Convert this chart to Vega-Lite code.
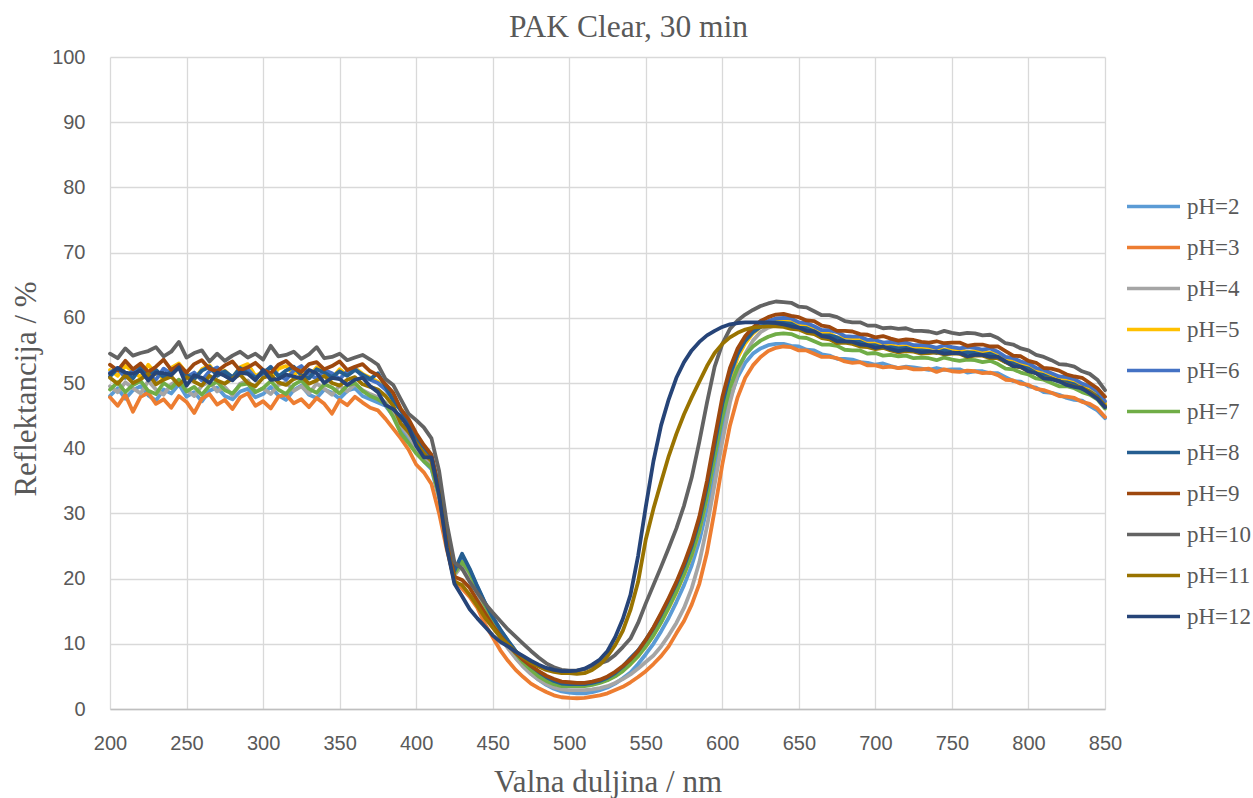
{
"$schema": "https://vega.github.io/schema/vega-lite/v6.json",
"width": 995, "height": 652,
"autosize": "none",
"padding": {"left": 110, "top": 57, "right": 148, "bottom": 89},
"background": "white",
"title": {"text": "PAK Clear, 30 min", "font": "Liberation Serif", "fontSize": 31.5, "fontWeight": "normal", "color": "#595959", "anchor": "middle", "dx": 21, "offset": 4},
"config": {"view": {"stroke": null}},
"data": {"values": [
{"w":200,"pH=2":48.0,"pH=3":47.8,"pH=4":49.5,"pH=5":52.0,"pH=6":51.6,"pH=7":49.0,"pH=8":51.0,"pH=9":52.8,"pH=10":54.5,"pH=11":50.8,"pH=12":51.4},
{"w":205,"pH=2":49.2,"pH=3":46.5,"pH=4":48.6,"pH=5":51.1,"pH=6":52.3,"pH=7":50.1,"pH=8":52.2,"pH=9":51.9,"pH=10":53.8,"pH=11":49.9,"pH=12":52.3},
{"w":210,"pH=2":47.6,"pH=3":48.2,"pH=4":50.1,"pH=5":52.6,"pH=6":50.8,"pH=7":48.6,"pH=8":51.6,"pH=9":53.4,"pH=10":55.3,"pH=11":51.2,"pH=12":51.6},
{"w":215,"pH=2":48.9,"pH=3":45.6,"pH=4":49.2,"pH=5":51.8,"pH=6":51.9,"pH=7":49.7,"pH=8":50.7,"pH=9":52.1,"pH=10":54.2,"pH=11":50.0,"pH=12":51.4},
{"w":220,"pH=2":49.5,"pH=3":47.9,"pH=4":48.4,"pH=5":50.9,"pH=6":52.5,"pH=7":50.3,"pH=8":52.4,"pH=9":53.0,"pH=10":54.6,"pH=11":50.6,"pH=12":51.9},
{"w":225,"pH=2":48.1,"pH=3":48.5,"pH=4":50.3,"pH=5":52.8,"pH=6":51.0,"pH=7":48.8,"pH=8":51.3,"pH=9":51.7,"pH=10":54.9,"pH=11":51.4,"pH=12":50.4},
{"w":230,"pH=2":47.3,"pH=3":46.8,"pH=4":49.0,"pH=5":51.4,"pH=6":50.5,"pH=7":48.3,"pH=8":52.0,"pH=9":52.5,"pH=10":55.5,"pH=11":49.8,"pH=12":51.6},
{"w":235,"pH=2":49.0,"pH=3":47.5,"pH=4":48.2,"pH=5":50.7,"pH=6":52.2,"pH=7":50.0,"pH=8":50.9,"pH=9":53.6,"pH=10":54.1,"pH=11":50.5,"pH=12":51.5},
{"w":240,"pH=2":48.4,"pH=3":46.2,"pH=4":49.8,"pH=5":52.3,"pH=6":51.4,"pH=7":49.2,"pH=8":51.7,"pH=9":52.0,"pH=10":54.8,"pH=11":51.0,"pH=12":51.2},
{"w":245,"pH=2":49.8,"pH=3":48.0,"pH=4":50.5,"pH=5":53.0,"pH=6":52.7,"pH=7":50.5,"pH=8":52.6,"pH=9":52.8,"pH=10":56.3,"pH=11":49.7,"pH=12":52.4},
{"w":250,"pH=2":47.9,"pH=3":47.1,"pH=4":48.9,"pH=5":51.5,"pH=6":50.9,"pH=7":48.7,"pH=8":51.2,"pH=9":51.6,"pH=10":53.9,"pH=11":50.9,"pH=12":49.6},
{"w":255,"pH=2":48.6,"pH=3":45.4,"pH=4":48.0,"pH=5":50.6,"pH=6":51.6,"pH=7":49.4,"pH=8":50.6,"pH=9":52.9,"pH=10":54.6,"pH=11":50.2,"pH=12":51.2},
{"w":260,"pH=2":47.2,"pH=3":47.6,"pH=4":49.6,"pH=5":52.1,"pH=6":50.4,"pH=7":48.2,"pH=8":51.9,"pH=9":53.5,"pH=10":55.0,"pH=11":49.6,"pH=12":50.8},
{"w":265,"pH=2":48.8,"pH=3":48.3,"pH=4":50.2,"pH=5":52.7,"pH=6":51.8,"pH=7":49.6,"pH=8":52.5,"pH=9":52.2,"pH=10":53.3,"pH=11":51.1,"pH=12":50.0},
{"w":270,"pH=2":49.3,"pH=3":46.7,"pH=4":48.7,"pH=5":51.2,"pH=6":52.4,"pH=7":50.2,"pH=8":51.1,"pH=9":51.8,"pH=10":54.5,"pH=11":50.4,"pH=12":51.6},
{"w":275,"pH=2":48.0,"pH=3":47.4,"pH=4":49.4,"pH=5":51.9,"pH=6":51.1,"pH=7":48.9,"pH=8":51.8,"pH=9":52.7,"pH=10":53.4,"pH=11":49.9,"pH=12":51.1},
{"w":280,"pH=2":47.5,"pH=3":46.0,"pH=4":48.1,"pH=5":50.8,"pH=6":50.6,"pH=7":48.4,"pH=8":50.9,"pH=9":53.3,"pH=10":54.2,"pH=11":50.7,"pH=12":50.4},
{"w":285,"pH=2":48.7,"pH=3":47.8,"pH=4":49.9,"pH=5":52.4,"pH=6":51.9,"pH=7":49.7,"pH=8":52.3,"pH=9":51.9,"pH=10":54.8,"pH=11":51.3,"pH=12":51.6},
{"w":290,"pH=2":49.1,"pH=3":48.4,"pH=4":50.4,"pH=5":52.9,"pH=6":52.1,"pH=7":49.9,"pH=8":51.5,"pH=9":52.4,"pH=10":53.9,"pH=11":50.0,"pH=12":51.4},
{"w":295,"pH=2":47.8,"pH=3":46.5,"pH=4":48.6,"pH=5":51.1,"pH=6":50.8,"pH=7":48.6,"pH=8":50.8,"pH=9":53.1,"pH=10":54.5,"pH=11":49.5,"pH=12":50.4},
{"w":300,"pH=2":48.3,"pH=3":47.2,"pH=4":49.2,"pH=5":51.7,"pH=6":51.4,"pH=7":49.2,"pH=8":51.6,"pH=9":52.0,"pH=10":53.6,"pH=11":50.8,"pH=12":52.0},
{"w":305,"pH=2":49.4,"pH=3":46.1,"pH=4":48.3,"pH=5":50.8,"pH=6":52.5,"pH=7":50.3,"pH=8":52.4,"pH=9":51.5,"pH=10":55.7,"pH=11":51.2,"pH=12":50.5},
{"w":310,"pH=2":48.1,"pH=3":47.9,"pH=4":49.7,"pH=5":52.2,"pH=6":51.2,"pH=7":49.0,"pH=8":51.0,"pH=9":52.8,"pH=10":54.1,"pH=11":50.1,"pH=12":50.6},
{"w":315,"pH=2":47.4,"pH=3":48.2,"pH=4":50.1,"pH=5":52.6,"pH=6":50.5,"pH=7":48.3,"pH=8":51.9,"pH=9":53.4,"pH=10":54.3,"pH=11":49.7,"pH=12":51.3},
{"w":320,"pH=2":48.9,"pH=3":46.9,"pH=4":48.8,"pH=5":51.3,"pH=6":51.9,"pH=7":49.7,"pH=8":52.5,"pH=9":52.3,"pH=10":54.8,"pH=11":50.6,"pH=12":51.0},
{"w":325,"pH=2":49.6,"pH=3":47.5,"pH=4":49.5,"pH=5":52.0,"pH=6":52.6,"pH=7":50.4,"pH=8":51.2,"pH=9":51.7,"pH=10":53.7,"pH=11":51.0,"pH=12":50.7},
{"w":330,"pH=2":48.2,"pH=3":46.3,"pH=4":48.4,"pH=5":51.0,"pH=6":51.3,"pH=7":49.1,"pH=8":50.7,"pH=9":52.9,"pH=10":54.4,"pH=11":49.9,"pH=12":52.0},
{"w":335,"pH=2":47.7,"pH=3":47.7,"pH=4":49.9,"pH=5":52.4,"pH=6":50.7,"pH=7":48.5,"pH=8":52.1,"pH=9":53.2,"pH=10":55.5,"pH=11":50.4,"pH=12":51.5},
{"w":340,"pH=2":49.0,"pH=3":46.8,"pH=4":49.1,"pH=5":51.6,"pH=6":52.0,"pH=7":49.8,"pH=8":51.6,"pH=9":52.1,"pH=10":53.8,"pH=11":51.1,"pH=12":50.0},
{"w":345,"pH=2":48.5,"pH=3":45.3,"pH=4":48.2,"pH=5":50.7,"pH=6":51.5,"pH=7":49.3,"pH=8":50.9,"pH=9":52.6,"pH=10":54.0,"pH=11":50.0,"pH=12":50.8},
{"w":350,"pH=2":47.6,"pH=3":47.4,"pH=4":49.6,"pH=5":52.1,"pH=6":50.6,"pH=7":48.4,"pH=8":51.8,"pH=9":53.3,"pH=10":54.5,"pH=11":49.6,"pH=12":50.6},
{"w":355,"pH=2":48.8,"pH=3":46.6,"pH=4":48.7,"pH=5":51.2,"pH=6":51.8,"pH=7":49.6,"pH=8":51.1,"pH=9":52.0,"pH=10":53.5,"pH=11":50.5,"pH=12":49.7},
{"w":360,"pH=2":49.2,"pH=3":47.9,"pH=4":49.8,"pH=5":52.3,"pH=6":52.2,"pH=7":50.0,"pH=8":52.0,"pH=9":52.5,"pH=10":53.9,"pH=11":50.9,"pH=12":50.5},
{"w":365,"pH=2":48.0,"pH=3":47.0,"pH=4":48.9,"pH=5":51.4,"pH=6":51.0,"pH=7":48.8,"pH=8":51.3,"pH=9":52.9,"pH=10":54.3,"pH=11":49.8,"pH=12":50.8},
{"w":370,"pH=2":47.5,"pH=3":46.2,"pH=4":48.3,"pH=5":50.8,"pH=6":50.5,"pH=7":48.0,"pH=8":50.6,"pH=9":51.8,"pH=10":53.6,"pH=11":49.4,"pH=12":49.5},
{"w":375,"pH=2":47.0,"pH=3":45.8,"pH=4":47.8,"pH=5":50.2,"pH=6":50.0,"pH=7":47.5,"pH=8":51.5,"pH=9":51.2,"pH=10":52.8,"pH=11":49.0,"pH=12":48.6},
{"w":380,"pH=2":46.5,"pH=3":44.5,"pH=4":47.0,"pH=5":49.2,"pH=6":49.0,"pH=7":46.8,"pH=8":49.5,"pH=9":49.8,"pH=10":50.6,"pH=11":48.0,"pH=12":46.6},
{"w":385,"pH=2":45.0,"pH=3":43.0,"pH=4":45.5,"pH=5":47.8,"pH=6":47.5,"pH=7":44.8,"pH=8":47.3,"pH=9":48.5,"pH=10":49.7,"pH=11":46.5,"pH=12":46.0},
{"w":390,"pH=2":43.0,"pH=3":41.5,"pH=4":43.5,"pH=5":46.0,"pH=6":45.8,"pH=7":42.3,"pH=8":45.8,"pH=9":46.0,"pH=10":47.5,"pH=11":43.8,"pH=12":44.8},
{"w":395,"pH=2":41.5,"pH=3":39.8,"pH=4":42.0,"pH=5":44.2,"pH=6":44.0,"pH=7":40.8,"pH=8":44.0,"pH=9":44.5,"pH=10":45.3,"pH=11":42.5,"pH=12":43.2},
{"w":400,"pH=2":39.6,"pH=3":37.5,"pH=4":40.0,"pH=5":41.8,"pH=6":41.6,"pH=7":39.2,"pH=8":41.5,"pH=9":42.3,"pH=10":44.3,"pH=11":40.8,"pH=12":40.4},
{"w":405,"pH=2":38.0,"pH=3":36.3,"pH=4":38.4,"pH=5":39.8,"pH=6":39.9,"pH=7":38.0,"pH=8":40.2,"pH=9":40.5,"pH=10":43.2,"pH=11":39.2,"pH=12":38.6},
{"w":410,"pH=2":36.8,"pH=3":34.5,"pH=4":37.2,"pH=5":38.3,"pH=6":38.4,"pH=7":37.0,"pH=8":38.8,"pH=9":39.0,"pH=10":41.5,"pH=11":38.0,"pH=12":38.6},
{"w":415,"pH=2":32.3,"pH=3":30.0,"pH=4":32.6,"pH=5":33.5,"pH=6":33.6,"pH=7":32.8,"pH=8":33.8,"pH=9":33.8,"pH=10":36.5,"pH=11":33.0,"pH=12":32.8},
{"w":420,"pH=2":25.5,"pH=3":24.5,"pH=4":25.6,"pH=5":26.3,"pH=6":26.5,"pH=7":25.8,"pH=8":26.8,"pH=9":26.0,"pH=10":28.5,"pH=11":25.0,"pH=12":24.8},
{"w":425,"pH=2":20.5,"pH=3":19.8,"pH=4":20.5,"pH=5":20.8,"pH=6":21.0,"pH=7":20.8,"pH=8":21.2,"pH=9":20.3,"pH=10":22.5,"pH=11":19.5,"pH=12":19.2},
{"w":430,"pH=2":22.8,"pH=3":18.5,"pH=4":22.0,"pH=5":23.0,"pH=6":23.5,"pH=7":22.6,"pH=8":23.8,"pH=9":19.8,"pH=10":21.5,"pH=11":19.0,"pH=12":17.3},
{"w":435,"pH=2":20.8,"pH=3":17.2,"pH=4":20.2,"pH=5":21.0,"pH=6":21.3,"pH=7":20.9,"pH=8":21.5,"pH=9":18.6,"pH=10":19.5,"pH=11":17.5,"pH=12":15.3},
{"w":440,"pH=2":18.2,"pH=3":15.5,"pH=4":17.8,"pH=5":18.5,"pH=6":18.7,"pH=7":18.4,"pH=8":18.8,"pH=9":16.6,"pH=10":17.8,"pH=11":15.8,"pH=12":13.9},
{"w":445,"pH=2":15.6,"pH=3":13.0,"pH=4":15.3,"pH=5":16.0,"pH=6":16.2,"pH=7":15.9,"pH=8":16.3,"pH=9":14.7,"pH=10":16.2,"pH=11":14.0,"pH=12":12.6},
{"w":450,"pH=2":13.3,"pH=3":11.0,"pH=4":13.0,"pH=5":13.8,"pH=6":14.0,"pH=7":13.7,"pH=8":14.1,"pH=9":12.8,"pH=10":14.8,"pH=11":12.5,"pH=12":11.3},
{"w":455,"pH=2":11.3,"pH=3":9.0,"pH=4":11.0,"pH=5":11.9,"pH=6":12.1,"pH=7":11.7,"pH=8":12.2,"pH=9":11.2,"pH=10":13.5,"pH=11":11.0,"pH=12":10.3},
{"w":460,"pH=2":9.5,"pH=3":7.4,"pH=4":9.3,"pH=5":10.2,"pH=6":10.4,"pH=7":10.0,"pH=8":10.5,"pH=9":9.8,"pH=10":12.2,"pH=11":9.9,"pH=12":9.6},
{"w":465,"pH=2":7.9,"pH=3":6.0,"pH=4":7.8,"pH=5":8.7,"pH=6":8.8,"pH=7":8.5,"pH=8":8.9,"pH=9":8.6,"pH=10":11.1,"pH=11":8.8,"pH=12":8.8},
{"w":470,"pH=2":6.5,"pH=3":4.9,"pH=4":6.5,"pH=5":7.4,"pH=6":7.5,"pH=7":7.1,"pH=8":7.6,"pH=9":7.5,"pH=10":10.0,"pH=11":7.9,"pH=12":8.1},
{"w":475,"pH=2":5.4,"pH=3":3.9,"pH=4":5.4,"pH=5":6.3,"pH=6":6.5,"pH=7":6.0,"pH=8":6.6,"pH=9":6.6,"pH=10":8.9,"pH=11":7.1,"pH=12":7.4},
{"w":480,"pH=2":4.5,"pH=3":3.2,"pH=4":4.5,"pH=5":5.4,"pH=6":5.6,"pH=7":5.0,"pH=8":5.7,"pH=9":5.8,"pH=10":7.9,"pH=11":6.5,"pH=12":6.8},
{"w":485,"pH=2":3.7,"pH=3":2.6,"pH=4":3.8,"pH=5":4.6,"pH=6":4.8,"pH=7":4.3,"pH=8":4.9,"pH=9":5.1,"pH=10":7.0,"pH=11":6.0,"pH=12":6.3},
{"w":490,"pH=2":3.1,"pH=3":2.1,"pH=4":3.3,"pH=5":4.1,"pH=6":4.2,"pH=7":3.8,"pH=8":4.3,"pH=9":4.6,"pH=10":6.4,"pH=11":5.7,"pH=12":6.0},
{"w":495,"pH=2":2.7,"pH=3":1.8,"pH=4":3.0,"pH=5":3.8,"pH=6":3.9,"pH=7":3.5,"pH=8":3.9,"pH=9":4.2,"pH=10":6.0,"pH=11":5.5,"pH=12":5.8},
{"w":500,"pH=2":2.5,"pH=3":1.7,"pH=4":2.9,"pH=5":3.7,"pH=6":3.8,"pH=7":3.5,"pH=8":3.8,"pH=9":4.1,"pH=10":5.9,"pH=11":5.5,"pH=12":5.8},
{"w":505,"pH=2":2.4,"pH=3":1.65,"pH=4":2.9,"pH=5":3.7,"pH=6":3.8,"pH=7":3.5,"pH=8":3.8,"pH=9":4.0,"pH=10":5.9,"pH=11":5.4,"pH=12":5.9},
{"w":510,"pH=2":2.4,"pH=3":1.7,"pH=4":2.9,"pH=5":3.7,"pH=6":3.8,"pH=7":3.5,"pH=8":3.8,"pH=9":4.0,"pH=10":6.1,"pH=11":5.5,"pH=12":6.2},
{"w":515,"pH=2":2.6,"pH=3":1.9,"pH=4":3.0,"pH=5":3.8,"pH=6":3.9,"pH=7":3.7,"pH=8":4.0,"pH=9":4.2,"pH=10":6.6,"pH=11":6.0,"pH=12":6.8},
{"w":520,"pH=2":2.9,"pH=3":2.1,"pH=4":3.2,"pH=5":4.1,"pH=6":4.2,"pH=7":4.0,"pH=8":4.3,"pH=9":4.5,"pH=10":7.0,"pH=11":6.8,"pH=12":7.6},
{"w":525,"pH=2":3.3,"pH=3":2.4,"pH=4":3.5,"pH=5":4.5,"pH=6":4.6,"pH=7":4.4,"pH=8":4.8,"pH=9":5.0,"pH=10":7.4,"pH=11":8.1,"pH=12":8.9},
{"w":530,"pH=2":3.9,"pH=3":2.9,"pH=4":4.0,"pH=5":5.1,"pH=6":5.3,"pH=7":5.0,"pH=8":5.5,"pH=9":5.7,"pH=10":8.3,"pH=11":9.8,"pH=12":11.0},
{"w":535,"pH=2":4.7,"pH=3":3.4,"pH=4":4.6,"pH=5":5.9,"pH=6":6.1,"pH=7":5.8,"pH=8":6.5,"pH=9":6.6,"pH=10":9.5,"pH=11":12.0,"pH=12":13.8},
{"w":540,"pH=2":5.6,"pH=3":4.1,"pH=4":5.3,"pH=5":6.9,"pH=6":7.2,"pH=7":6.9,"pH=8":7.8,"pH=9":7.6,"pH=10":10.8,"pH=11":15.2,"pH=12":17.5},
{"w":545,"pH=2":6.9,"pH=3":4.9,"pH=4":6.2,"pH=5":8.1,"pH=6":8.4,"pH=7":8.1,"pH=8":9.0,"pH=9":8.9,"pH=10":13.2,"pH=11":19.5,"pH=12":23.5},
{"w":550,"pH=2":8.4,"pH=3":5.8,"pH=4":7.2,"pH=5":9.6,"pH=6":10.0,"pH=7":9.6,"pH=8":10.6,"pH=9":10.6,"pH=10":16.2,"pH=11":26.0,"pH=12":31.0},
{"w":555,"pH=2":10.0,"pH=3":6.9,"pH=4":8.2,"pH=5":11.3,"pH=6":11.8,"pH=7":11.3,"pH=8":12.4,"pH=9":12.5,"pH=10":19.0,"pH=11":30.7,"pH=12":38.0},
{"w":560,"pH=2":11.9,"pH=3":8.1,"pH=4":9.6,"pH=5":13.3,"pH=6":13.9,"pH=7":13.3,"pH=8":14.5,"pH=9":14.7,"pH=10":21.8,"pH=11":34.8,"pH=12":43.5},
{"w":565,"pH=2":14.0,"pH=3":9.6,"pH=4":11.3,"pH=5":15.5,"pH=6":16.2,"pH=7":15.6,"pH=8":16.8,"pH=9":17.0,"pH=10":24.7,"pH=11":38.8,"pH=12":47.5},
{"w":570,"pH=2":16.4,"pH=3":11.6,"pH=4":13.2,"pH=5":17.9,"pH=6":18.6,"pH=7":18.0,"pH=8":19.2,"pH=9":19.5,"pH=10":27.7,"pH=11":42.2,"pH=12":50.8},
{"w":575,"pH=2":19.0,"pH=3":13.5,"pH=4":15.5,"pH=5":20.6,"pH=6":21.3,"pH=7":20.7,"pH=8":21.9,"pH=9":22.3,"pH=10":31.2,"pH=11":45.2,"pH=12":53.2},
{"w":580,"pH=2":22.0,"pH=3":16.0,"pH=4":18.5,"pH=5":23.6,"pH=6":24.4,"pH=7":23.7,"pH=8":25.0,"pH=9":25.5,"pH=10":35.5,"pH=11":47.8,"pH=12":55.0},
{"w":585,"pH=2":25.8,"pH=3":19.2,"pH=4":22.5,"pH=5":27.4,"pH=6":28.3,"pH=7":27.5,"pH=8":28.9,"pH=9":29.5,"pH=10":41.0,"pH=11":50.2,"pH=12":56.3},
{"w":590,"pH=2":30.8,"pH=3":24.0,"pH=4":28.0,"pH=5":32.6,"pH=6":33.6,"pH=7":32.6,"pH=8":34.2,"pH=9":35.0,"pH=10":47.0,"pH=11":52.6,"pH=12":57.3},
{"w":595,"pH=2":36.8,"pH=3":30.5,"pH=4":34.5,"pH=5":39.0,"pH=6":40.0,"pH=7":38.8,"pH=8":40.6,"pH=9":41.5,"pH=10":52.5,"pH=11":54.6,"pH=12":58.0},
{"w":600,"pH=2":42.8,"pH=3":37.5,"pH=4":41.0,"pH=5":45.4,"pH=6":46.3,"pH=7":44.8,"pH=8":46.8,"pH=9":47.8,"pH=10":56.0,"pH=11":56.0,"pH=12":58.6},
{"w":605,"pH=2":47.6,"pH=3":43.5,"pH=4":47.0,"pH=5":50.4,"pH=6":51.1,"pH=7":49.3,"pH=8":51.4,"pH=9":52.3,"pH=10":58.3,"pH=11":57.0,"pH=12":59.0},
{"w":610,"pH=2":50.9,"pH=3":47.8,"pH=4":51.5,"pH=5":53.9,"pH=6":54.4,"pH=7":52.3,"pH=8":54.5,"pH=9":55.3,"pH=10":59.6,"pH=11":57.7,"pH=12":59.2},
{"w":615,"pH=2":53.1,"pH=3":50.8,"pH=4":54.5,"pH=5":56.1,"pH=6":56.6,"pH=7":54.3,"pH=8":56.5,"pH=9":57.2,"pH=10":60.5,"pH=11":58.2,"pH=12":59.3},
{"w":620,"pH=2":54.5,"pH=3":52.7,"pH=4":56.5,"pH=5":57.6,"pH=6":58.0,"pH=7":55.6,"pH=8":57.8,"pH=9":58.5,"pH=10":61.2,"pH=11":58.5,"pH=12":59.3},
{"w":625,"pH=2":55.3,"pH=3":54.0,"pH=4":57.8,"pH=5":58.6,"pH=6":58.9,"pH=7":56.5,"pH=8":58.6,"pH=9":59.5,"pH=10":61.8,"pH=11":58.6,"pH=12":59.3},
{"w":630,"pH=2":55.8,"pH=3":54.9,"pH=4":58.5,"pH=5":59.2,"pH=6":59.5,"pH=7":57.1,"pH=8":59.0,"pH=9":60.1,"pH=10":62.2,"pH=11":58.7,"pH=12":59.3},
{"w":635,"pH=2":56.0,"pH=3":55.4,"pH=4":58.9,"pH=5":59.5,"pH=6":59.9,"pH=7":57.5,"pH=8":59.3,"pH=9":60.5,"pH=10":62.5,"pH=11":58.7,"pH=12":59.2},
{"w":640,"pH=2":56.0,"pH=3":55.6,"pH=4":59.0,"pH=5":59.6,"pH=6":60.0,"pH=7":57.6,"pH=8":59.2,"pH=9":60.6,"pH=10":62.4,"pH=11":58.6,"pH=12":59.0},
{"w":645,"pH=2":55.7,"pH=3":55.5,"pH=4":58.9,"pH=5":59.3,"pH=6":59.9,"pH=7":57.5,"pH=8":59.1,"pH=9":60.3,"pH=10":62.3,"pH=11":58.3,"pH=12":58.7},
{"w":650,"pH=2":55.6,"pH=3":55.0,"pH=4":58.4,"pH=5":59.1,"pH=6":59.3,"pH=7":57.0,"pH=8":58.5,"pH=9":60.1,"pH=10":61.7,"pH=11":58.2,"pH=12":58.5},
{"w":655,"pH=2":55.1,"pH=3":55.0,"pH=4":58.3,"pH=5":58.6,"pH=6":59.2,"pH=7":56.9,"pH=8":58.4,"pH=9":59.6,"pH=10":61.6,"pH=11":57.7,"pH=12":58.0},
{"w":660,"pH=2":55.0,"pH=3":54.5,"pH=4":57.7,"pH=5":58.5,"pH=6":58.7,"pH=7":56.4,"pH=8":57.9,"pH=9":59.5,"pH=10":61.0,"pH=11":57.5,"pH=12":57.9},
{"w":665,"pH=2":54.4,"pH=3":54.0,"pH=4":57.2,"pH=5":57.8,"pH=6":58.1,"pH=7":55.9,"pH=8":57.3,"pH=9":58.8,"pH=10":60.4,"pH=11":56.9,"pH=12":57.2},
{"w":670,"pH=2":54.2,"pH=3":54.0,"pH=4":57.2,"pH=5":57.6,"pH=6":58.1,"pH=7":55.9,"pH=8":57.3,"pH=9":58.6,"pH=10":60.4,"pH=11":56.7,"pH=12":57.0},
{"w":675,"pH=2":53.7,"pH=3":53.8,"pH=4":56.9,"pH=5":57.0,"pH=6":57.8,"pH=7":55.7,"pH=8":57.0,"pH=9":58.0,"pH=10":60.1,"pH=11":56.1,"pH=12":56.4},
{"w":680,"pH=2":53.7,"pH=3":53.3,"pH=4":56.4,"pH=5":57.0,"pH=6":57.2,"pH=7":55.1,"pH=8":56.4,"pH=9":58.0,"pH=10":59.5,"pH=11":56.2,"pH=12":56.4},
{"w":685,"pH=2":53.6,"pH=3":53.1,"pH=4":56.2,"pH=5":56.9,"pH=6":57.1,"pH=7":55.0,"pH=8":56.3,"pH=9":57.9,"pH=10":59.3,"pH=11":56.0,"pH=12":56.3},
{"w":690,"pH=2":53.2,"pH=3":53.2,"pH=4":56.2,"pH=5":56.5,"pH=6":57.1,"pH=7":55.0,"pH=8":56.3,"pH=9":57.5,"pH=10":59.3,"pH=11":55.6,"pH=12":55.9},
{"w":695,"pH=2":53.1,"pH=3":52.7,"pH=4":55.7,"pH=5":56.4,"pH=6":56.6,"pH=7":54.5,"pH=8":55.8,"pH=9":57.4,"pH=10":58.8,"pH=11":55.5,"pH=12":55.8},
{"w":700,"pH=2":52.8,"pH=3":52.7,"pH=4":55.8,"pH=5":56.0,"pH=6":56.6,"pH=7":54.6,"pH=8":55.8,"pH=9":57.0,"pH=10":58.8,"pH=11":55.2,"pH=12":55.4},
{"w":705,"pH=2":53.0,"pH=3":52.4,"pH=4":55.4,"pH=5":56.2,"pH=6":56.2,"pH=7":54.2,"pH=8":55.4,"pH=9":57.2,"pH=10":58.4,"pH=11":55.4,"pH=12":55.6},
{"w":710,"pH=2":52.6,"pH=3":52.5,"pH=4":55.5,"pH=5":55.8,"pH=6":56.3,"pH=7":54.3,"pH=8":55.5,"pH=9":56.8,"pH=10":58.5,"pH=11":55.0,"pH=12":55.2},
{"w":715,"pH=2":52.3,"pH=3":52.3,"pH=4":55.3,"pH=5":55.5,"pH=6":56.1,"pH=7":54.1,"pH=8":55.3,"pH=9":56.5,"pH=10":58.3,"pH=11":54.7,"pH=12":54.9},
{"w":720,"pH=2":52.5,"pH=3":52.4,"pH=4":55.4,"pH=5":55.7,"pH=6":56.2,"pH=7":54.2,"pH=8":55.4,"pH=9":56.7,"pH=10":58.4,"pH=11":54.9,"pH=12":55.1},
{"w":725,"pH=2":52.4,"pH=3":52.1,"pH=4":55.0,"pH=5":55.6,"pH=6":55.8,"pH=7":53.8,"pH=8":55.0,"pH=9":56.6,"pH=10":58.0,"pH=11":54.8,"pH=12":55.0},
{"w":730,"pH=2":52.2,"pH=3":52.1,"pH=4":55.0,"pH=5":55.3,"pH=6":55.8,"pH=7":53.9,"pH=8":55.0,"pH=9":56.3,"pH=10":58.0,"pH=11":54.5,"pH=12":54.7},
{"w":735,"pH=2":52.0,"pH=3":52.2,"pH=4":54.9,"pH=5":55.4,"pH=6":55.7,"pH=7":53.8,"pH=8":54.9,"pH=9":56.2,"pH=10":57.9,"pH=11":54.6,"pH=12":54.8},
{"w":740,"pH=2":52.3,"pH=3":51.7,"pH=4":54.7,"pH=5":55.4,"pH=6":55.4,"pH=7":53.5,"pH=8":54.6,"pH=9":56.4,"pH=10":57.6,"pH=11":54.7,"pH=12":54.8},
{"w":745,"pH=2":52.0,"pH=3":52.1,"pH=4":55.1,"pH=5":55.1,"pH=6":55.8,"pH=7":53.9,"pH=8":55.0,"pH=9":56.1,"pH=10":58.0,"pH=11":54.4,"pH=12":54.5},
{"w":750,"pH=2":52.1,"pH=3":51.8,"pH=4":54.8,"pH=5":55.2,"pH=6":55.5,"pH=7":53.6,"pH=8":54.7,"pH=9":56.2,"pH=10":57.7,"pH=11":54.5,"pH=12":54.6},
{"w":755,"pH=2":52.1,"pH=3":51.7,"pH=4":54.6,"pH=5":55.2,"pH=6":55.3,"pH=7":53.4,"pH=8":54.5,"pH=9":56.2,"pH=10":57.5,"pH=11":54.5,"pH=12":54.6},
{"w":760,"pH=2":51.6,"pH=3":51.9,"pH=4":54.8,"pH=5":54.7,"pH=6":55.5,"pH=7":53.6,"pH=8":54.7,"pH=9":55.7,"pH=10":57.7,"pH=11":54.0,"pH=12":54.1},
{"w":765,"pH=2":51.8,"pH=3":51.8,"pH=4":54.7,"pH=5":54.9,"pH=6":55.4,"pH=7":53.5,"pH=8":54.6,"pH=9":55.9,"pH=10":57.6,"pH=11":54.2,"pH=12":54.3},
{"w":770,"pH=2":51.8,"pH=3":51.5,"pH=4":54.4,"pH=5":54.9,"pH=6":55.1,"pH=7":53.2,"pH=8":54.3,"pH=9":55.9,"pH=10":57.3,"pH=11":54.2,"pH=12":54.3},
{"w":775,"pH=2":51.5,"pH=3":51.6,"pH=4":54.5,"pH=5":54.6,"pH=6":55.3,"pH=7":53.4,"pH=8":54.5,"pH=9":55.6,"pH=10":57.4,"pH=11":53.8,"pH=12":54.0},
{"w":780,"pH=2":51.5,"pH=3":51.2,"pH=4":54.0,"pH=5":54.6,"pH=6":54.8,"pH=7":52.9,"pH=8":54.0,"pH=9":55.6,"pH=10":56.9,"pH=11":53.8,"pH=12":54.0},
{"w":785,"pH=2":50.9,"pH=3":50.5,"pH=4":53.3,"pH=5":53.9,"pH=6":54.0,"pH=7":52.2,"pH=8":53.2,"pH=9":54.9,"pH=10":56.1,"pH=11":53.2,"pH=12":53.3},
{"w":790,"pH=2":50.3,"pH=3":50.4,"pH=4":53.2,"pH=5":53.2,"pH=6":53.8,"pH=7":52.1,"pH=8":53.0,"pH=9":54.2,"pH=10":55.9,"pH=11":52.6,"pH=12":52.6},
{"w":795,"pH=2":50.2,"pH=3":49.9,"pH=4":52.6,"pH=5":53.1,"pH=6":53.3,"pH=7":51.6,"pH=8":52.5,"pH=9":54.1,"pH=10":55.3,"pH=11":52.4,"pH=12":52.5},
{"w":800,"pH=2":49.5,"pH=3":49.7,"pH=4":52.4,"pH=5":52.4,"pH=6":53.0,"pH=7":51.3,"pH=8":52.2,"pH=9":53.4,"pH=10":55.0,"pH=11":51.8,"pH=12":51.8},
{"w":805,"pH=2":49.3,"pH=3":49.1,"pH=4":51.7,"pH=5":52.1,"pH=6":52.3,"pH=7":50.7,"pH=8":51.5,"pH=9":53.1,"pH=10":54.3,"pH=11":51.5,"pH=12":51.5},
{"w":810,"pH=2":48.6,"pH=3":48.9,"pH=4":51.4,"pH=5":51.3,"pH=6":52.0,"pH=7":50.5,"pH=8":51.2,"pH=9":52.3,"pH=10":54.0,"pH=11":50.7,"pH=12":50.7},
{"w":815,"pH=2":48.5,"pH=3":48.5,"pH=4":51.0,"pH=5":51.2,"pH=6":51.5,"pH=7":50.0,"pH=8":50.7,"pH=9":52.2,"pH=10":53.5,"pH=11":50.7,"pH=12":50.6},
{"w":820,"pH=2":48.2,"pH=3":48.0,"pH=4":50.4,"pH=5":50.9,"pH=6":51.0,"pH=7":49.5,"pH=8":50.2,"pH=9":51.9,"pH=10":52.9,"pH=11":50.3,"pH=12":50.3},
{"w":825,"pH=2":47.7,"pH=3":47.9,"pH=4":50.4,"pH=5":50.3,"pH=6":50.9,"pH=7":49.5,"pH=8":50.1,"pH=9":51.3,"pH=10":52.8,"pH=11":49.8,"pH=12":49.7},
{"w":830,"pH=2":47.4,"pH=3":47.7,"pH=4":50.1,"pH=5":50.0,"pH=6":50.6,"pH=7":49.2,"pH=8":49.8,"pH=9":51.0,"pH=10":52.5,"pH=11":49.5,"pH=12":49.4},
{"w":835,"pH=2":47.3,"pH=3":47.1,"pH=4":49.4,"pH=5":49.8,"pH=6":49.9,"pH=7":48.6,"pH=8":49.1,"pH=9":50.8,"pH=10":51.8,"pH=11":49.3,"pH=12":49.2},
{"w":840,"pH=2":46.5,"pH=3":46.8,"pH=4":49.1,"pH=5":49.0,"pH=6":49.5,"pH=7":48.2,"pH=8":48.7,"pH=9":50.0,"pH=10":51.4,"pH=11":48.6,"pH=12":48.4},
{"w":845,"pH=2":45.8,"pH=3":46.1,"pH=4":48.3,"pH=5":48.2,"pH=6":48.7,"pH=7":47.5,"pH=8":47.9,"pH=9":49.2,"pH=10":50.5,"pH=11":47.8,"pH=12":47.6},
{"w":850,"pH=2":44.6,"pH=3":44.8,"pH=4":46.8,"pH=5":46.9,"pH=6":47.2,"pH=7":46.1,"pH=8":46.4,"pH=9":47.9,"pH=10":48.9,"pH=11":46.5,"pH=12":46.3}
]},
"transform": [{"fold": ["pH=2","pH=3","pH=4","pH=5","pH=6","pH=7","pH=8","pH=9","pH=10","pH=11","pH=12"], "as": ["series","value"]}],
"mark": {"type": "line", "strokeWidth": 3.8, "interpolate": "linear", "strokeJoin": "round", "strokeCap": "round"},
"encoding": {
"x": {"field": "w", "type": "quantitative", "title": "Valna duljina / nm",
"scale": {"domain": [200, 850], "nice": false, "zero": false},
"axis": {"values": [200,250,300,350,400,450,500,550,600,650,700,750,800,850], "grid": true, "gridColor": "#D9D9D9", "gridWidth": 1.3, "ticks": false, "tickSize": 0, "domain": true, "domainColor": "#BFBFBF", "domainWidth": 1.3, "labelFont": "Liberation Sans", "labelFontSize": 20, "labelColor": "#595959", "labelPadding": 24, "labelFlush": false, "titleFont": "Liberation Serif", "titleFontSize": 31, "titleFontWeight": "normal", "titleColor": "#595959", "titleBaseline": "alphabetic", "titleY": 82, "titleX": 497.5, "titleAlign": "center"}},
"y": {"field": "value", "type": "quantitative", "title": "Reflektancija / %",
"scale": {"domain": [0, 100], "nice": false},
"axis": {"values": [0,10,20,30,40,50,60,70,80,90,100], "grid": true, "gridColor": "#D9D9D9", "gridWidth": 1.3, "ticks": false, "tickSize": 0, "domain": false, "labelFont": "Liberation Sans", "labelFontSize": 20, "labelColor": "#595959", "labelPadding": 25, "titleFont": "Liberation Serif", "titleFontSize": 31, "titleFontWeight": "normal", "titleColor": "#595959", "titleBaseline": "alphabetic", "titleAngle": 270, "titleX": -75, "titleY": 331.5, "titleAlign": "center"}},
"color": {"field": "series", "type": "nominal",
"scale": {"domain": ["pH=2","pH=3","pH=4","pH=5","pH=6","pH=7","pH=8","pH=9","pH=10","pH=11","pH=12"],
"range": ["#5B9BD5","#ED7D31","#A5A5A5","#FFC000","#4472C4","#70AD47","#255E91","#9E480E","#636363","#997300","#264478"]},
"legend": {"title": null, "orient": "none", "legendX": 1015, "legendY": 121, "padding": 0, "symbolType": "stroke", "symbolSize": 2809, "symbolStrokeWidth": 3.5, "labelFont": "Liberation Serif", "labelFontSize": 23, "labelColor": "#595959", "labelOffset": 5, "rowPadding": -3}}
}
}
